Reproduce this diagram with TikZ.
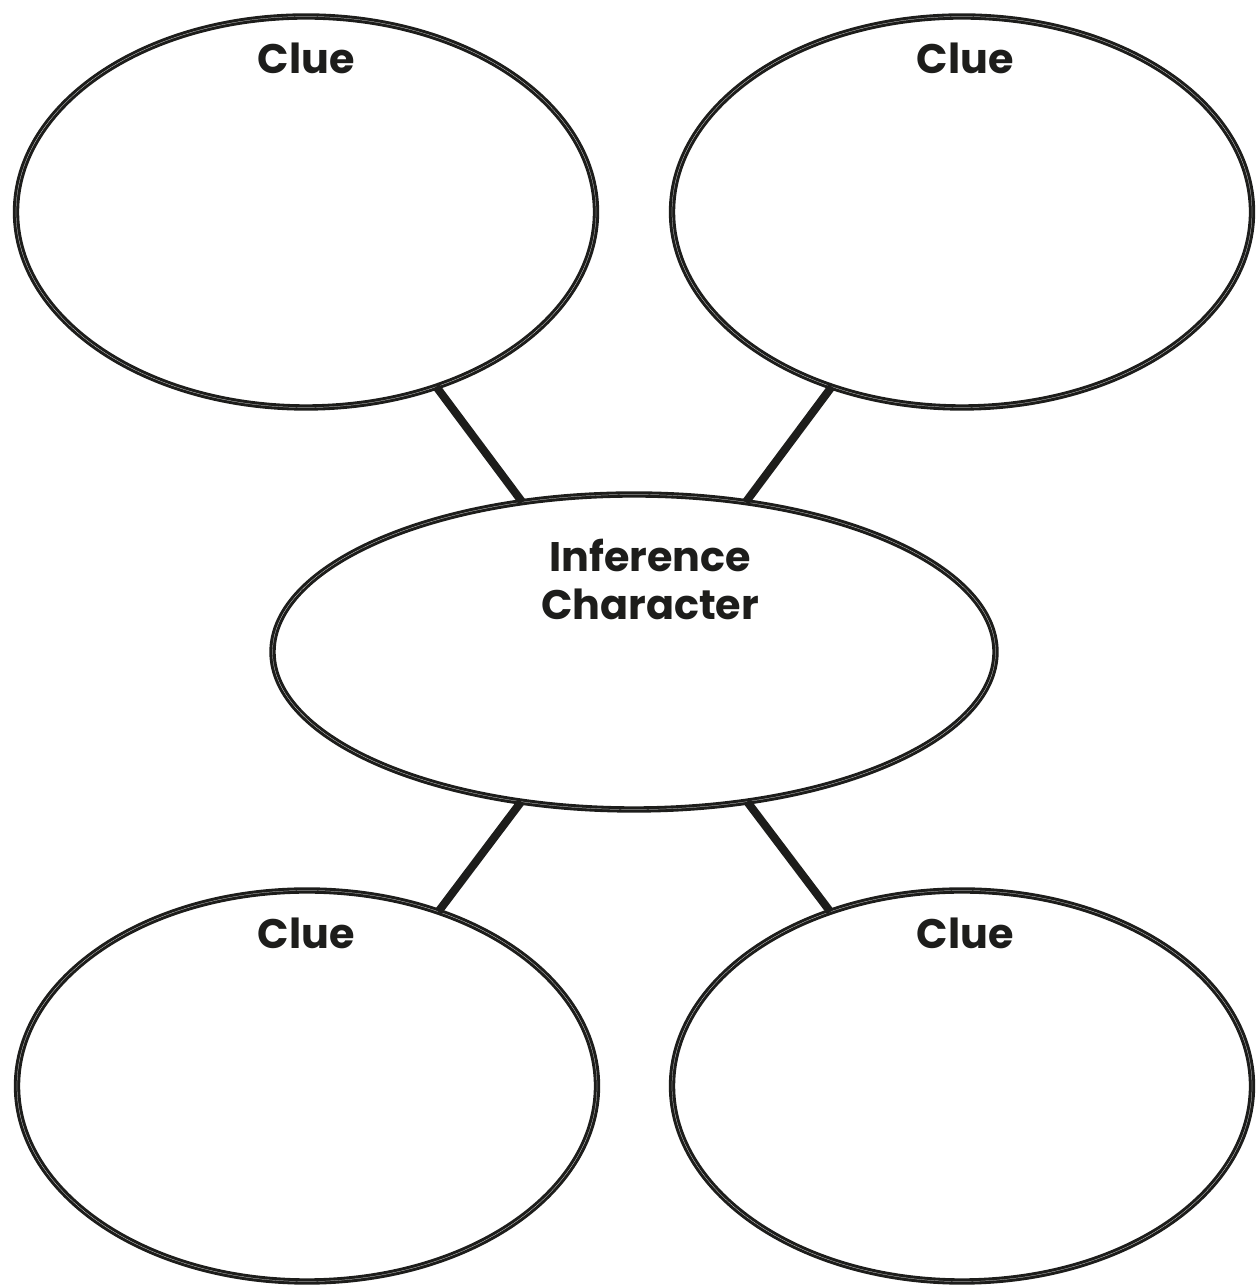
\documentclass[tikz,border=0pt]{standalone}
\usepackage{fontspec}
\setmainfont{Poppins}
\usetikzlibrary{shapes.geometric}
\definecolor{ink}{HTML}{1D1D1B}
\tikzset{
  clue/.style={draw=ink,ellipse,line width=1.75pt,double=white,double distance=0.12pt,
    minimum width=11.6cm,minimum height=7.82cm,outer sep=0pt,inner sep=0pt},
  hub/.style={clue,minimum width=14.46cm,minimum height=6.3cm},
  link/.style={ink,line width=4.6pt},
  cluetext/.style={text=ink,font=\fontsize{23.5}{27.5}\selectfont\bfseries,align=center}
}
\begin{document}
\begin{tikzpicture}
          \useasboundingbox (0,0) rectangle (25.1,25.76);
          %\draw[very thin,lightgray] (0,0) grid (25,25);
          \node[clue] (tl) at (6.12,21.52) {};
          \node[clue] (tr) at (19.24,21.52) {};
          \node[hub] (inf) at (12.68,12.72) {};
          \node[clue] (bl) at (6.14,4.04) {};
          \node[clue] (br) at (19.24,4.04) {};
          \draw[link] (tl) -- (inf);
          \draw[link] (tr) -- (inf);
          \draw[link] (bl) -- (inf);
          \draw[link] (br) -- (inf);
          \node[cluetext] (tltext) at (6.12,24.6) {Clue};
          \node[cluetext] (trtext) at (19.3,24.6) {Clue};
          \node[cluetext] (bltext) at (6.12,7.1) {Clue};
          \node[cluetext] (brtext) at (19.3,7.1) {Clue};
          \node[cluetext,text depth=0pt] (inftext) at (13.0,14.18) {Inference\\Character};
        \end{tikzpicture}
\end{document}
